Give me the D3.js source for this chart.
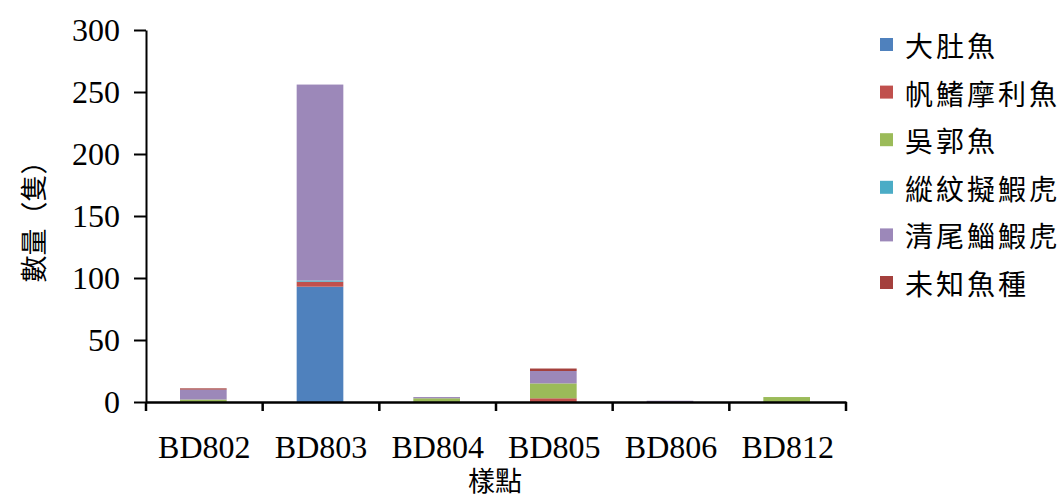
<!DOCTYPE html>
<html><head><meta charset="utf-8">
<script src="https://cdn.jsdelivr.net/npm/d3@7"></script>
<style>body{margin:0;background:#fff}svg{display:block}</style>
</head><body>
<script>
const categories = ["BD802","BD803","BD804","BD805","BD806","BD812"];
const seriesNames = ["大肚魚","帆鰭摩利魚","吳郭魚","縱紋擬鰕虎","清尾鯔鰕虎","未知魚種"];
const s_dadu   = [0, 93, 0, 0, 0, 0];
const s_fanqi  = [0, 4, 0, 3, 0, 0];
const s_wuguo  = [2, 0, 3, 12, 0, 4];
const s_zongwen= [0, 1, 0, 0, 0, 0];
const s_qingwei= [8, 158, 1, 10, 1, 0];
const s_unknown= [1, 0, 0, 2, 0, 0];
const yTicks = [0,50,100,150,200,250,300];
const colors = ["#4F81BD","#C0504D","#9BBB59","#4BACC6","#9C88B9","#A4403D"];

const seriesVals = [s_dadu,s_fanqi,s_wuguo,s_zongwen,s_qingwei,s_unknown];
const rows = categories.map((c,i)=>{const r={cat:c}; seriesNames.forEach((n,j)=>r[n]=seriesVals[j][i]); return r;});

const W=1064,H=499;
const svg=d3.select("body").append("svg").attr("width",W).attr("height",H);
const x=d3.scaleBand().domain(categories).range([146,846]).paddingInner(0.6).paddingOuter(0.3);
const y=d3.scaleLinear().domain([0,300]).range([402,30]);

const stack=d3.stack().keys(seriesNames)(rows);
svg.append("g").selectAll("g").data(stack).join("g").attr("fill",(d,i)=>colors[i])
  .selectAll("rect").data(d=>d).join("rect")
  .attr("x",d=>x(d.data.cat)-1).attr("width",x.bandwidth())
  .attr("y",d=>y(d[1])).attr("height",d=>y(d[0])-y(d[1]));

const serif='"Liberation Serif","Times New Roman",serif';
const cjk='"Noto Sans CJK TC","Noto Sans CJK SC",sans-serif';

// y axis
const ya=svg.append("g").attr("transform","translate(146,0)")
  .call(d3.axisLeft(y).tickValues(yTicks).tickSize(12).tickPadding(14).tickSizeOuter(0));
ya.select(".domain").attr("stroke","#000").attr("stroke-width",2);
ya.selectAll(".tick line").attr("stroke","#000").attr("stroke-width",2);
ya.selectAll("text").attr("font-family",serif).attr("font-size",32).attr("fill","#000");

// x axis with boundary ticks
const xa=svg.append("g").attr("transform","translate(0,402)")
  .call(d3.axisBottom(x).tickSize(0).tickPadding(33).tickSizeOuter(0));
xa.select(".domain").attr("stroke","#000").attr("stroke-width",2.5);
xa.selectAll("text").attr("font-family",serif).attr("font-size",32).attr("fill","#000");
const bounds=categories.map(c=>x(c)-x.step()*x.paddingInner()/2);
bounds.push(846);
bounds[0]=146;
svg.append("g").selectAll("line").data(bounds).join("line")
  .attr("x1",d=>d).attr("x2",d=>d).attr("y1",402).attr("y2",411)
  .attr("stroke","#000").attr("stroke-width",2.5);

// titles
svg.append("text").attr("transform","translate(32,215) rotate(-90)")
  .attr("text-anchor","middle").attr("dominant-baseline","central")
  .attr("font-family",cjk).attr("font-size",27).text("數量（隻）");
svg.append("text").attr("x",495).attr("y",491).attr("text-anchor","middle")
  .attr("font-family",cjk).attr("font-size",27).text("樣點");

// legend
const lg=svg.append("g");
seriesNames.forEach((n,i)=>{
  const cy=45+i*47.6;
  lg.append("rect").attr("x",880).attr("y",cy-7).attr("width",13).attr("height",13).attr("fill",colors[i]);
  lg.append("text").attr("x",905).attr("y",cy).attr("dominant-baseline","central")
    .attr("font-family",cjk).attr("font-size",28).attr("letter-spacing",3).text(n);
});
</script>
</body></html>
